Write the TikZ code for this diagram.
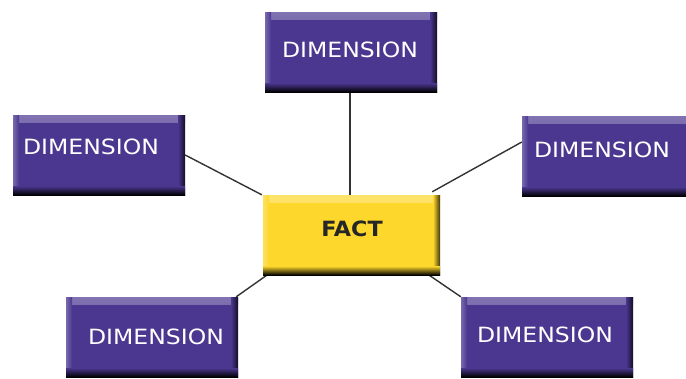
\documentclass[tikz,border=0pt]{standalone}
\usepackage{fontspec}
\setmainfont{DejaVu Sans}
\newfontfamily\dimfont[FakeStretch=1.12]{DejaVu Sans}
\newfontfamily\factfont[FakeStretch=1.06]{DejaVu Sans Bold}
\usetikzlibrary{backgrounds}
\definecolor{dimpurple}{HTML}{4B3790}
\definecolor{factyellow}{HTML}{FDD72C}
\definecolor{linegray}{HTML}{333333}
\tikzset{
  bevelbox/.style={draw=none, inner sep=0pt, fill=#1,
    path picture={
      \shade[top color=white!30!#1, bottom color=#1]
        (path picture bounding box.north west) rectangle ([yshift=-7pt]path picture bounding box.north east);
      \shade[left color=white!25!#1, right color=#1]
        (path picture bounding box.north west) rectangle ([xshift=6pt]path picture bounding box.south west);
      \shade[left color=#1, right color=black!75!#1]
        ([xshift=-7pt]path picture bounding box.north east) rectangle (path picture bounding box.south east);
      \shade[top color=#1, bottom color=black]
        ([yshift=9pt]path picture bounding box.south west) rectangle (path picture bounding box.south east);
    }},
  dimbox/.style={bevelbox=dimpurple, minimum width=172pt, minimum height=80pt},
  factbox/.style={bevelbox=factyellow, minimum width=177pt, minimum height=80pt},
  dimtext/.style={text=white, font=\dimfont\fontsize{21}{24}\selectfont, inner sep=0pt},
  facttext/.style={text=black!85, font=\factfont\fontsize{21}{24}\selectfont, inner sep=0pt},
  conn/.style={draw=linegray, line width=1.4pt}
}
\begin{document}
\begin{tikzpicture}[x=1pt,y=-1pt]
\useasboundingbox (0,0) rectangle (686,378);
% boxes
\node[dimbox] (T) at (351,52) {};
\node[dimbox] (L) at (99,155) {};
\node[dimbox] (R) at (608,156) {};
\node[dimbox] (BL) at (152,337) {};
\node[dimbox] (BR) at (547,337) {};
\node[factbox] (F) at (351.5,235) {};
% texts
\node[dimtext] (Tt) at (350,49.5) {DIMENSION};
\node[dimtext] (Lt) at (91,147) {DIMENSION};
\node[dimtext] (Rt) at (602,149.5) {DIMENSION};
\node[dimtext] (BLt) at (156,337) {DIMENSION};
\node[dimtext] (BRt) at (545,334.5) {DIMENSION};
\node[facttext] (Ft) at (352,229) {FACT};
% connectors
\begin{pgfonlayer}{background}
\draw[conn] ([xshift=-1pt]T.south) -- ([xshift=-1.5pt]F.north);
\draw[conn] ([yshift=0pt]L.east) -- ([xshift=-1pt]F.north west);
\draw[conn] ([yshift=14pt]R.west) -- ([xshift=-8pt,yshift=3pt]F.north east);
\draw[conn] ([xshift=-2pt]BL.north east) -- ([xshift=4pt]F.south west);
\draw[conn] ([xshift=-11pt]F.south east) -- (BR.north west);
\end{pgfonlayer}
\end{tikzpicture}
\end{document}
